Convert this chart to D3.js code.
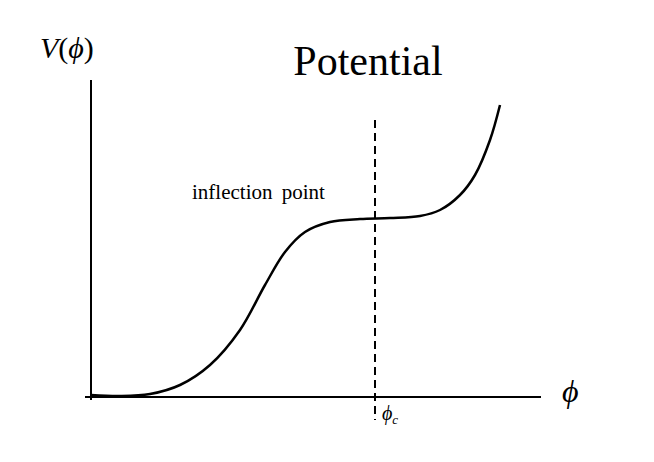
<!DOCTYPE html>
<html><head><meta charset="utf-8">
<script src="https://cdn.jsdelivr.net/npm/d3@7"></script>
<style>body{margin:0;background:#fff}</style>
</head><body>
<svg id="chart" width="654" height="462"></svg>
<script>
// curve samples
var phiVals = [0, 29, 59, 89, 119, 149, 174, 194, 214, 239, 269, 299, 329, 349, 369, 384, 399, 409];
var vVals   = [2, 1, 3, 12, 32, 67, 112, 145, 165, 175, 178, 179, 181, 187, 202, 222, 257, 292];
var phiC = 284;

var svg = d3.select("#chart");
var x = d3.scaleLinear().domain([0, 450]).range([91, 541]);
var y = d3.scaleLinear().domain([0, 300]).range([397, 97]);
var font = "'Liberation Serif','Times New Roman',serif";

// axes
svg.append("line").attr("x1", 85).attr("x2", x(450)).attr("y1", y(0)).attr("y2", y(0))
    .attr("stroke", "#000").attr("stroke-width", 2);
svg.append("line").attr("x1", x(0)).attr("x2", x(0)).attr("y1", 80).attr("y2", 400)
    .attr("stroke", "#000").attr("stroke-width", 2);

// dashed line at phi_c
svg.append("line").attr("x1", x(phiC)).attr("x2", x(phiC)).attr("y1", 120).attr("y2", 420)
    .attr("stroke", "#000").attr("stroke-width", 2).attr("stroke-dasharray", "8,5");

var pts = phiVals.map(function(d, i) { return [d, vVals[i]]; });
svg.append("path").datum(pts)
    .attr("d", d3.line().x(function(d){return x(d[0]);}).y(function(d){return y(d[1]);}).curve(d3.curveCatmullRom))
    .attr("fill", "none").attr("stroke", "#000").attr("stroke-width", 2.5);

// labels
svg.append("text").attr("x", 368).attr("y", 75).attr("text-anchor", "middle")
    .attr("font-family", font).attr("font-size", 42).text("Potential");
svg.append("text").attr("x", 40).attr("y", 58).attr("font-family", font).attr("font-size", 30)
    .html('<tspan font-style="italic">V</tspan>(<tspan font-style="italic">ϕ</tspan>)');
svg.append("text").attr("x", 192).attr("y", 199).attr("font-family", font).attr("font-size", 21)
    .attr("word-spacing", 4).text("inflection point");
svg.append("text").attr("x", 562).attr("y", 402).attr("font-family", font).attr("font-size", 32)
    .attr("font-style", "italic").text("ϕ");
svg.append("text").attr("x", 382).attr("y", 420).attr("font-family", font).attr("font-size", 20)
    .attr("font-style", "italic").html('ϕ<tspan font-size="13" dy="4">c</tspan>');
</script>
</body></html>
